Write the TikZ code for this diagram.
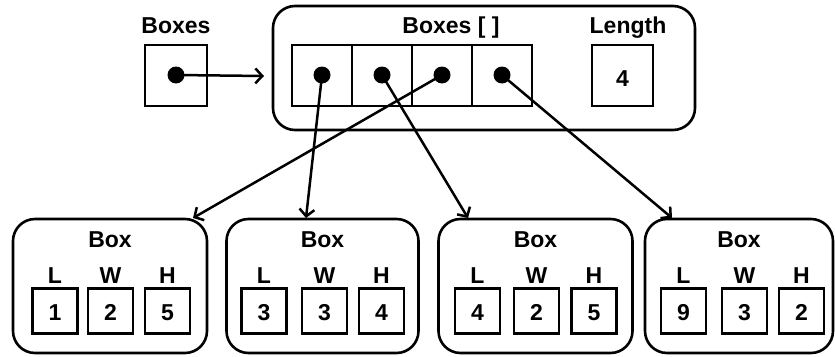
\documentclass[tikz,border=0pt]{standalone}
\usepackage{fontspec}
\setmainfont{Liberation Sans}
\usetikzlibrary{arrows.meta}
\tikzset{
  lbl/.style={font=\fontsize{23}{27}\selectfont\bfseries, anchor=base, inner sep=0pt},
  cellbox/.style={draw, line width=2.6pt, minimum width=#1, minimum height=61pt, inner sep=0pt},
  valbox/.style={draw, line width=2.6pt, minimum width=45pt, minimum height=45pt, inner sep=0pt},
  rbox/.style={draw, line width=2.6pt, rounded corners=22pt, inner sep=0pt},
  ptr/.style={line width=2.5pt, -{Straight Barb[length=7pt,width=15pt,line width=2.5pt]}},
  dotmark/.style={fill=black, circle, inner sep=0pt, minimum size=17pt}
}
\begin{document}
\begin{tikzpicture}[x=1pt,y=-1pt]
\useasboundingbox (0,0) rectangle (835,356);
% top-left pointer variable
\node[lbl] (lboxes) at (176,33) {Boxes};
\node[cellbox=62pt] (bp) at (176,75.5) {};
% array object
\node[rbox, minimum width=422pt, minimum height=124pt] (arr) at (484,68) {};
\node[lbl] (larr) at (451,33) {Boxes [ ]};
\node[lbl] (llen) at (628,33) {Length};
\node[cellbox=60pt] (c1) at (322,75.5) {};
\node[cellbox=60pt] (c2) at (382,75.5) {};
\node[cellbox=60pt] (c3) at (442,75.5) {};
\node[cellbox=60pt] (c4) at (502,75.5) {};
\node[cellbox=61pt] (lenbox) at (622.5,75.5) {};
\node[lbl] (lenval) at (622.5,86) {4};
% bottom objects
\foreach \n/\cx/\w/\xa/\xb/\xc/\va/\vb/\vc in {
  1/110/194/55/110.5/167.5/1/2/5,
  2/322.5/192/264/324.5/381.5/3/3/4,
  3/535.5/194/477.5/536.5/594/4/2/5,
  4/739/188/683.5/744.5/801.5/9/3/2}{
  \node[rbox, minimum width=\w pt, minimum height=134pt] (b\n) at (\cx,286) {};
  \node[lbl] (bt\n) at (\cx,247) {Box};
  \node[lbl] (bl\n) at (\xa,283) {L};
  \node[lbl] (bw\n) at (\xb,283) {W};
  \node[lbl] (bh\n) at (\xc,283) {H};
  \node[valbox] (vl\n) at (\xa,311) {};
  \node[valbox] (vw\n) at (\xb,311) {};
  \node[valbox] (vh\n) at (\xc,311) {};
  \node[lbl] at (\xa,320) {\va};
  \node[lbl] at (\xb,320) {\vb};
  \node[lbl] at (\xc,320) {\vc};
}
% arrow targets
\coordinate (e0) at (264,76);
\coordinate (e1) at (306,218);
\coordinate (e2) at (468,218);
\coordinate (e3) at (193,218);
\coordinate (e4) at (672,218);
% pointers
\draw[ptr] ([yshift=0.5pt]bp.center) -- (e0);
\draw[ptr] ([yshift=0.5pt]c1.center) -- (e1);
\draw[ptr] ([yshift=0.5pt]c2.center) -- (e2);
\draw[ptr] ([yshift=0.5pt]c3.center) -- (e3);
\draw[ptr] ([yshift=0.5pt]c4.center) -- (e4);
% dots
\node[dotmark] (d0) at ([yshift=0.5pt]bp.center) {};
\node[dotmark] (d1) at ([yshift=0.5pt]c1.center) {};
\node[dotmark] (d2) at ([yshift=0.5pt]c2.center) {};
\node[dotmark] (d3) at ([yshift=0.5pt]c3.center) {};
\node[dotmark] (d4) at ([yshift=0.5pt]c4.center) {};
\end{tikzpicture}
\end{document}
